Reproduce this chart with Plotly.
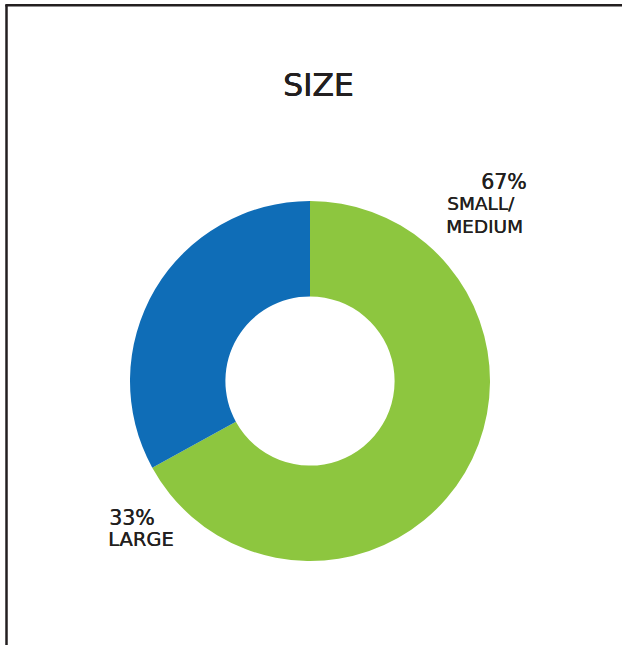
import plotly.graph_objects as go

categories = ["SMALL/MEDIUM", "LARGE"]
values = [67, 33]
colors = ["#8DC63F", "#0F6DB7"]
title = "SIZE"

W, H = 622, 645

def px(x):
    return x / W

def py(y):
    return 1 - y / H

fig = go.Figure(go.Pie(
    labels=categories,
    values=values,
    hole=0.47,
    sort=False,
    direction="clockwise",
    rotation=0,
    marker=dict(colors=colors, line=dict(width=0)),
    textinfo="none",
    hoverinfo="skip",
    showlegend=False,
    domain=dict(x=[px(130), px(490)], y=[py(561), py(201)]),
))

font = "'DejaVu Sans', sans-serif"
ink = "#231F20"
thick = "0.5px 0 0 #231F20, 0 0.3px 0 #231F20"
thin = "0.4px 0 0 #231F20"

def f(size, sh=thin):
    return dict(size=size, color=ink, family=font, shadow=sh)

ann = [
    dict(text=title, x=px(318), y=py(85), font=f(31.5, thick), xanchor="center"),
    dict(text=f"{values[0]}%", x=px(529), y=py(182), font=f(20.5), xanchor="right"),
    dict(text="SMALL/", x=px(445), y=py(203), font=f(18.5)),
    dict(text="MEDIUM", x=px(444), y=py(226), font=f(18.5)),
    dict(text=f"{values[1]}%", x=px(107), y=py(518), font=f(20.5)),
    dict(text="LARGE", x=px(106), y=py(539), font=f(19.5)),
]
for a in ann:
    a.setdefault("xanchor", "left")
    a.update(xref="paper", yref="paper", showarrow=False, yanchor="middle")

fig.update_layout(
    width=W, height=H,
    margin=dict(l=0, r=0, t=0, b=0),
    paper_bgcolor="white",
    plot_bgcolor="white",
    annotations=ann,
    shapes=[
        dict(type="line", xref="paper", yref="paper", x0=px(6.5), x1=px(6.5), y0=py(5), y1=-0.05,
             line=dict(color=ink, width=2.5)),
        dict(type="line", xref="paper", yref="paper", x0=px(5.3), x1=1.05, y0=py(5.3), y1=py(5.3),
             line=dict(color=ink, width=2.5)),
    ],
)

fig.write_html("out.html", config={"displayModeBar": False},
               post_script="document.body.style.margin='0px';document.body.style.overflow='hidden';")
